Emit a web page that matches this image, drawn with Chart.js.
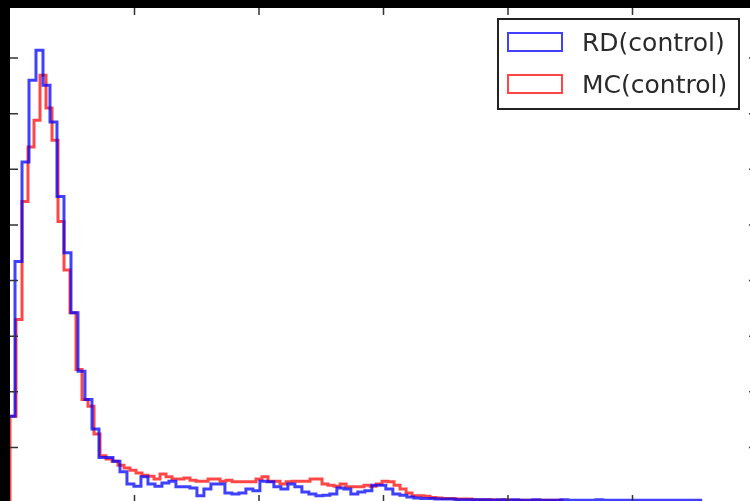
<!DOCTYPE html>
<html>
<head>
<meta charset="utf-8">
<script src="https://cdn.jsdelivr.net/npm/chart.js@4.4.1/dist/chart.umd.min.js"></script>
<style>
  html, body { margin: 0; padding: 0; background: #fff; overflow: hidden; }
  #wrap { position: relative; width: 760px; height: 508px; }
</style>
</head>
<body>
<div id="wrap"><canvas id="hist"></canvas></div>
<script>
// Histogram data (bin start, bin width, counts)
const rdLabel = 'RD(control)';
const rdStart = -0.016;
const rdWidth = 0.0562;
const rdCounts = [
  1.56, 4.34, 6.13, 7.60, 8.14, 7.51, 6.85, 5.51, 4.50, 3.42,
  2.37, 1.86, 1.33, 0.82, 0.82, 0.75, 0.56, 0.34, 0.30, 0.47,
  0.34, 0.30, 0.36, 0.39, 0.29, 0.29, 0.27, 0.13, 0.25, 0.34,
  0.34, 0.18, 0.16, 0.18, 0.25, 0.22, 0.39, 0.38, 0.29, 0.25,
  0.34, 0.29, 0.20, 0.16, 0.13, 0.14, 0.16, 0.27, 0.25, 0.16,
  0.20, 0.22, 0.32, 0.32, 0.25, 0.16, 0.14, 0.11, 0.09, 0.08,
  0.08, 0.07, 0.07, 0.07, 0.06, 0.06, 0.06, 0.06, 0.06, 0.05,
  0.06, 0.05, 0.06, 0.05, 0.05, 0.06, 0.05, 0.05, 0.05, 0.06,
  0.05, 0.05, 0.05, 0.05, 0.06, 0.05, 0.05, 0.05, 0.05, 0.05,
  0.05, 0.05, 0.05, 0.05, 0.05, 0.05, 0.05, 0.05, 0.05
];

const mcLabel = 'MC(control)';
const mcStart = 0.0;
const mcWidth = 0.0482;
const mcCounts = [
  1.56, 3.30, 5.42, 6.40, 6.88, 7.69, 7.10, 6.52, 5.06, 4.19,
  3.42, 2.40, 1.86, 1.74, 1.24, 0.85, 0.79, 0.75, 0.68, 0.63,
  0.59, 0.54, 0.50, 0.48, 0.43, 0.52, 0.47, 0.43, 0.43, 0.45,
  0.41, 0.39, 0.39, 0.43, 0.43, 0.39, 0.41, 0.38, 0.38, 0.38,
  0.38, 0.43, 0.47, 0.39, 0.39, 0.34, 0.38, 0.39, 0.39, 0.39,
  0.43, 0.43, 0.34, 0.32, 0.30, 0.34, 0.29, 0.29, 0.29, 0.32,
  0.30, 0.34, 0.39, 0.38, 0.32, 0.25, 0.18, 0.13, 0.13, 0.12,
  0.10, 0.09, 0.08, 0.08, 0.07, 0.07, 0.07, 0.06, 0.06, 0.06,
  0.06, 0.05, 0.06, 0.05, 0.05, 0.05, 0.05, 0.05, 0.05, 0.05,
  0.05, 0.05
];

const xTicks = [1, 2, 3, 4, 5];
const yTicks = [1, 2, 3, 4, 5, 6, 7, 8];
const xMax = 6;
const yMax = 8.9;

// step outline like matplotlib histtype='step'
function stepPoints(start, width, counts) {
  const pts = [{ x: start, y: 0 }];
  counts.forEach((c, i) => pts.push({ x: start + i * width, y: c }));
  pts.push({ x: start + counts.length * width, y: 0 });
  return pts;
}

// black frame, inward ticks and boxed legend
const framePlugin = {
  id: 'frame',
  afterDraw(chart) {
    const { ctx, chartArea: a, scales } = chart;
    const W = chart.width, H = chart.height;
    ctx.save();
    ctx.fillStyle = '#000';
    ctx.fillRect(0, 0, a.left, H);
    ctx.fillRect(0, 0, W, a.top);

    ctx.strokeStyle = '#333';
    ctx.lineWidth = 1.5;
    ctx.beginPath();
    xTicks.forEach(t => {
      const px = scales.x.getPixelForValue(t);
      ctx.moveTo(px, a.top); ctx.lineTo(px, a.top + 7);
      ctx.moveTo(px, a.bottom); ctx.lineTo(px, a.bottom - 8);
    });
    yTicks.forEach(t => {
      const py = scales.y.getPixelForValue(t);
      ctx.moveTo(a.left, py); ctx.lineTo(a.left + 8, py);
      ctx.moveTo(a.right, py); ctx.lineTo(a.right - 8, py);
    });
    ctx.stroke();

    // legend
    const bx = 498, by = 19, bw = 241, bh = 90;
    ctx.fillStyle = '#fff';
    ctx.fillRect(bx, by, bw, bh);
    ctx.strokeStyle = '#222';
    ctx.lineWidth = 2;
    ctx.strokeRect(bx, by, bw, bh);
    ctx.font = '25px "DejaVu Sans"';
    ctx.textBaseline = 'alphabetic';
    chart.data.datasets.forEach((ds, i) => {
      const ry = 33 + i * 42;
      ctx.strokeStyle = ds.borderColor;
      ctx.lineWidth = 2;
      ctx.strokeRect(508, ry, 54, 18);
      ctx.fillStyle = '#2a2a2a';
      ctx.fillText(ds.label, 582, ry + 18);
    });
    ctx.restore();
  }
};

new Chart(document.getElementById('hist'), {
  type: 'line',
  data: {
    datasets: [
      {
        label: rdLabel,
        data: stepPoints(rdStart, rdWidth, rdCounts),
        borderColor: 'rgba(0, 0, 255, 0.75)',
        borderWidth: 3,
        stepped: 'before',
        pointRadius: 0,
        fill: false
      },
      {
        label: mcLabel,
        data: stepPoints(mcStart, mcWidth, mcCounts),
        borderColor: 'rgba(255, 0, 0, 0.72)',
        borderWidth: 3,
        stepped: 'before',
        pointRadius: 0,
        fill: false
      }
    ]
  },
  options: {
    responsive: true,
    maintainAspectRatio: false,
    animation: false,
    layout: { padding: { left: 10, top: 8, right: 3, bottom: 5 } },
    plugins: {
      legend: { display: false },
      tooltip: { enabled: false }
    },
    scales: {
      x: { type: 'linear', display: false, min: 0, max: xMax },
      y: { display: false, min: 0, max: yMax }
    }
  },
  plugins: [framePlugin]
});
</script>
</body>
</html>
